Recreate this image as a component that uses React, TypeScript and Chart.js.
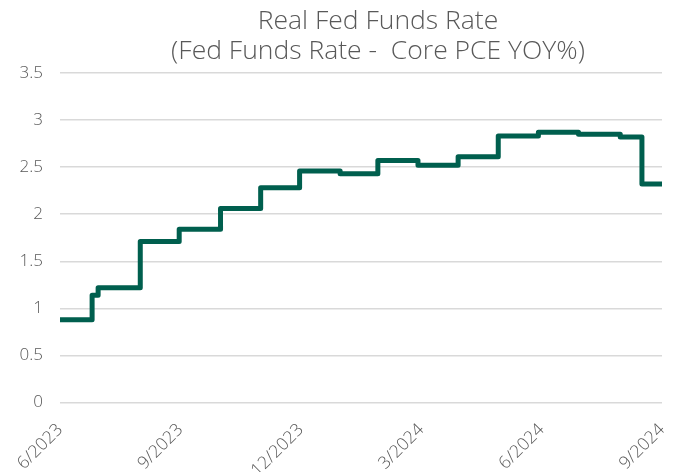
import React, { useEffect, useRef } from "react";
import { Chart, registerables } from "chart.js";

Chart.register(...registerables);

// Months elapsed since 6/2023 at which each new level begins
const stepMonths = [0, 0.8, 0.95, 2.0, 2.97, 4.0, 5.0, 5.97, 6.98, 7.92, 8.92, 9.92, 10.92, 11.92, 12.92, 13.96, 14.5, 15];
// Real Fed Funds Rate (Fed Funds Rate - Core PCE YoY%)
const realRate = [0.88, 1.14, 1.22, 1.71, 1.84, 2.06, 2.28, 2.46, 2.43, 2.57, 2.52, 2.61, 2.83, 2.87, 2.85, 2.82, 2.32, 2.32];
const xTickLabels = ["6/2023", "9/2023", "12/2023", "3/2024", "6/2024", "9/2024"];
const titleLines = ["Real Fed Funds Rate", "(Fed Funds Rate -  Core PCE YOY%)"];

const FONT = "'Open Sans', Lato, sans-serif";

const titlePlugin = {
  id: "offsetTitle",
  afterDraw(chart: any) {
    const ctx = chart.ctx;
    ctx.save();
    ctx.fillStyle = "#595959";
    ctx.font = `300 26.5px ${FONT}`;
    ctx.textAlign = "center";
    ctx.textBaseline = "alphabetic";
    const cx = (chart.chartArea.left + chart.chartArea.right) / 2 + 17;
    titleLines.forEach((line, i) => ctx.fillText(line, cx, 21 + i * 30));
    ctx.restore();
  },
};

export default function App() {
  const ref = useRef<HTMLCanvasElement | null>(null);
  useEffect(() => {
    document.documentElement.style.overflow = "hidden";
    if (!ref.current) return;
    const chart = new Chart(ref.current, {
      type: "line",
      data: {
        datasets: [
          {
            data: stepMonths.map((m, i) => ({ x: m, y: realRate[i] })),
            borderColor: "#005F4E",
            borderWidth: 5,
            stepped: true,
            pointRadius: 0,
            borderCapStyle: "round",
            borderJoinStyle: "round",
            fill: false,
          },
        ],
      },
      plugins: [titlePlugin],
      options: {
        animation: false,
        responsive: true,
        maintainAspectRatio: false,
        layout: { padding: { left: 0, right: 3, top: 65, bottom: 0 } },
        plugins: {
          legend: { display: false },
          tooltip: { enabled: false },
          title: { display: false },
        },
        scales: {
          x: {
            type: "linear",
            min: 0,
            max: 15,
            grid: { display: false },
            border: { display: false },
            afterFit: (s: any) => {
              s.paddingLeft = 0;
              s.paddingRight = 0;
            },
            ticks: {
              stepSize: 3,
              minRotation: 45,
              maxRotation: 45,
              color: "#595959",
              padding: 9,
              font: { family: FONT, size: 17.5, weight: "300" },
              callback: (v: any) => xTickLabels[Math.round(Number(v) / 3)] ?? "",
            },
          },
          y: {
            min: 0,
            max: 3.5,
            grid: { color: "#D9D9D9", lineWidth: 1.5, drawTicks: false },
            border: { display: false },
            afterFit: (s: any) => {
              s.width = 52;
            },
            ticks: {
              stepSize: 0.5,
              color: "#595959",
              padding: 17,
              font: { family: FONT, size: 17, weight: "300" },
              callback: (v: any) => String(Number(v)),
            },
          },
        },
      },
    });
    return () => chart.destroy();
  }, []);
  return (
    <div style={{ width: 657, height: 482, position: "relative" }}>
      <canvas ref={ref} />
    </div>
  );
}
